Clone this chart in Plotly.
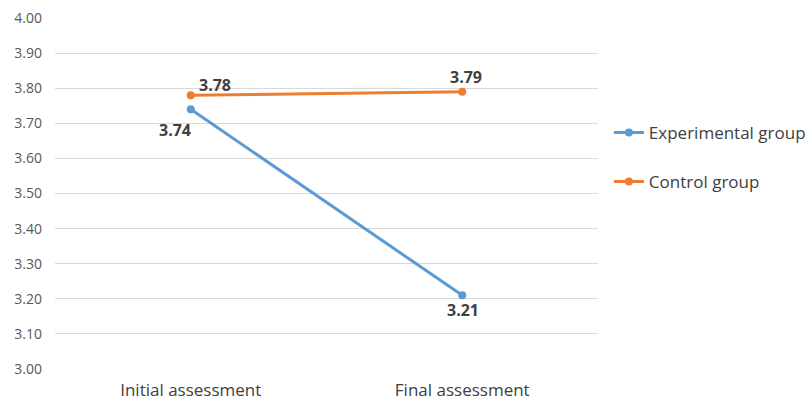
import plotly.graph_objects as go

categories = ["Initial assessment", "Final assessment"]
experimental = [3.74, 3.21]
control = [3.78, 3.79]
y_ticks = [3.00, 3.10, 3.20, 3.30, 3.40, 3.50, 3.60, 3.70, 3.80, 3.90, 4.00]

BLUE = "#5B9BD5"
ORANGE = "#ED7D31"
FONT = "Open Sans, sans-serif"

fig = go.Figure()
fig.add_trace(go.Scatter(
    x=categories, y=experimental, name="Experimental group",
    mode="lines+markers",
    line=dict(color=BLUE, width=3), marker=dict(size=8, color=BLUE),
    legend="legend", showlegend=True,
))
fig.add_trace(go.Scatter(
    x=categories, y=control, name="Control group",
    mode="lines+markers",
    line=dict(color=ORANGE, width=3), marker=dict(size=8, color=ORANGE),
    legend="legend2", showlegend=True,
))

# value labels placed beside each point (pixel offsets)
label_offsets = {
    "exp": [(-16, -21), (1, -15)],
    "ctl": [(24, 10), (4, 15)],
}
for series, key in ((experimental, "exp"), (control, "ctl")):
    for cat, val, (dx, dy) in zip(categories, series, label_offsets[key]):
        fig.add_annotation(
            x=cat, y=val, text=f"{val:.2f}", showarrow=False,
            xanchor="center", yanchor="middle", xshift=dx, yshift=dy,
            font=dict(family=FONT, size=16, color="#404040", weight="bold"),
        )

legend_style = dict(xanchor="left", yanchor="middle", bgcolor="rgba(0,0,0,0)",
                    font=dict(family=FONT, size=17, color="#404040"))

fig.update_layout(
    width=812, height=402,
    margin=dict(l=55, r=214, t=18, b=33, autoexpand=False),
    paper_bgcolor="white", plot_bgcolor="white",
    font=dict(family=FONT),
    showlegend=True,
    legend=dict(x=1.02, y=(369 - 133) / 351, **legend_style),
    legend2=dict(x=1.02, y=(369 - 182) / 351, **legend_style),
    xaxis=dict(
        type="category", range=[-0.5, 1.5], showgrid=False, zeroline=False,
        showline=False, ticks="", ticklabelstandoff=9, automargin=False,
        tickfont=dict(family=FONT, size=17, color="#404040"),
    ),
    yaxis=dict(
        range=[3.0, 4.0], tickvals=y_ticks,
        ticktext=[f"{v:.2f}" for v in y_ticks],
        showgrid=True, gridcolor="#D9D9D9", gridwidth=1, zeroline=False,
        showline=False, ticks="", ticklabelstandoff=12, automargin=False,
        tickfont=dict(family=FONT, size=14, color="#595959"),
    ),
)

fig.write_html("out.html")
